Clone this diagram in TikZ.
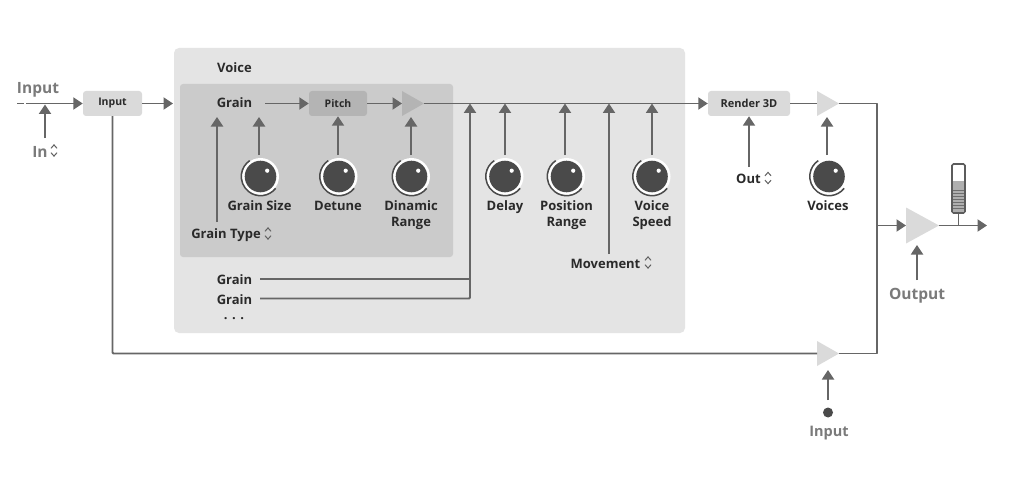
\documentclass[tikz,border=0pt]{standalone}
\usepackage{fontspec}
\setmainfont{Open Sans}
\usetikzlibrary{arrows.meta,shapes.geometric,calc,patterns}
\definecolor{wire}{HTML}{666666}
\definecolor{ink}{HTML}{2A2A2A}
\definecolor{soft}{HTML}{7A7A7A}
\definecolor{panelA}{HTML}{E4E4E4}
\definecolor{panelB}{HTML}{CBCBCB}
\definecolor{boxA}{HTML}{DADADA}
\definecolor{boxB}{HTML}{B4B4B4}
\definecolor{knobc}{HTML}{4A4A4A}
\tikzset{
  x=1pt,y=-1pt,
  wirestyle/.style={draw=wire,line width=1.9pt},
  arrowwire/.style={wirestyle,-{Triangle[length=9.5pt,width=12pt]}},
  lab/.style={font=\fontsize{13}{16}\selectfont\bfseries,text=ink,inner sep=0pt,align=center},
  biglab/.style={font=\fontsize{15.5}{17}\selectfont\bfseries,text=soft,inner sep=0pt},
  smalllab/.style={font=\fontsize{10.5}{12}\selectfont\bfseries,text=ink,inner sep=0pt},
  blockA/.style={fill=boxA,rounded corners=3pt,minimum width=#1,minimum height=25pt,inner sep=0pt},
  blockB/.style={fill=boxB,rounded corners=3pt,minimum width=#1,minimum height=25pt,inner sep=0pt},
  amp/.style={isosceles triangle,isosceles triangle stretches,inner sep=0pt,outer sep=0pt,anchor=lower side,shape border rotate=0},
  jn/.style={coordinate}
}
\newcommand{\knob}[3]{% name, x, y
  \node[circle,fill=white,minimum size=37pt,inner sep=0pt] (#1) at (#2,#3) {};
  \draw[knobc,line width=1.5pt] ($(#1)+(38:19.2)$) arc[start angle=38,end angle=236,radius=19.2];
  \fill[knobc] (#1) circle[radius=15.8];
  \fill[white] ($(#1)+(6.7,-5.8)$) circle[radius=2.1];
}
\newcommand{\updown}[2]{% x, y
  \draw[ink!75,line width=1pt] (#1-3,#2-2.2) -- (#1,#2-5.6) -- (#1+3,#2-2.2)
       (#1-3,#2+2.2) -- (#1,#2+5.6) -- (#1+3,#2+2.2);
}
\begin{document}
\begin{tikzpicture}
\useasboundingbox (0,0) rectangle (1024,476);
\fill[white] (0,0) rectangle (1024,476);
% panels
\fill[panelA,rounded corners=5pt] (174,48) rectangle (685,333);
\fill[panelB,rounded corners=3pt] (180,84) rectangle (453,257);
% blocks
\node[blockA=59pt] (inbox) at (112.5,103.5) {};
\node[smalllab] at (inbox) {Input};
\node[blockB=58pt] (pitch) at (338,103.5) {};
\node[smalllab] at (pitch) {Pitch};
\node[blockA=82pt] (render) at (749,103.5) {};
\node[smalllab,font=\fontsize{11}{12}\selectfont\bfseries] at (render) {Render 3D};
% amplifiers
\node[amp,fill=boxB,minimum height=22pt,minimum width=25pt] (ampA) at (402,103.5) {};
\node[amp,fill=boxA,minimum height=22pt,minimum width=25pt] (ampB) at (817,103.5) {};
\node[amp,fill=boxA,minimum height=22pt,minimum width=25pt] (ampC) at (817,353.5) {};
\node[amp,fill=boxA,minimum height=33pt,minimum width=36pt] (ampD) at (906,225.5) {};
% labels
\node[biglab] (lblinput) at (38,89.5) {Input};
\node[biglab] (lblin) at (40,151.5) {In};
\node[lab] (voice) at (234.5,68) {Voice};
\node[lab] (grain) at (234.5,103) {Grain};
\node[lab] (gsize) at (259.5,205.5) {Grain Size};
\node[lab] (detune) at (338,206) {Detune};
\node[lab] (dinamic) at (411,215) {Dinamic\\Range};
\node[lab] (gtype) at (226,235) {Grain Type};
\node[lab] (grainB) at (234.5,280) {Grain};
\node[lab] (grainC) at (234.5,299.5) {Grain};
\node[lab] (dots) at (234,319) {. . .};
\node[lab] (delay) at (505,207.5) {Delay};
\node[lab] (pos) at (566.5,215) {Position\\Range};
\node[lab] (speed) at (652,215) {Voice\\Speed};
\node[lab] (move) at (605.5,263.5) {Movement};
\node[lab] (out) at (748.5,179) {Out};
\node[lab] (voices) at (828,206) {Voices};
\node[biglab] (lblout) at (917,296) {Output};
\node[biglab,font=\fontsize{14.5}{16}\selectfont\bfseries] (lblinB) at (829,433) {Input};
\updown{54}{150.5}\updown{268}{233.5}\updown{648}{262.5}\updown{768}{178}
% knobs
\knob{kA}{260.5}{176.5}\knob{kB}{339}{176.5}\knob{kC}{411.5}{176.5}
\knob{kD}{505}{176.5}\knob{kE}{566.5}{176.5}\knob{kF}{652}{176.5}\knob{kG}{829}{176.5}
% junctions
\coordinate (a1) at (17,103.5); \coordinate (a2) at (24,103.5); \coordinate (a3) at (26,103.5);
\coordinate (inarrow) at (45,104.5); \coordinate (instart) at (45,138);
\coordinate (voiceIn) at (173,103.5);
\coordinate (mainD) at (470,103.5); \coordinate (mainE) at (505,103.5);
\coordinate (mainF) at (565,103.5); \coordinate (mainG) at (609,103.5); \coordinate (mainH) at (652,103.5);
\coordinate (bus) at (470,298.5); \coordinate (busB) at (470,279);
\coordinate (cTop) at (877,103.5); \coordinate (cBot) at (877,353.5); \coordinate (cMid) at (877,225.5);
\coordinate (inDown) at (112.5,353.5);
\coordinate (outEnd) at (987,225.5); \coordinate (meterFoot) at (958.5,225.5);
\node[circle,fill=knobc,minimum size=10pt,inner sep=0pt] (dotC) at (828,412.5) {};
% meter
\node[draw=knobc!90,line width=1.6pt,fill=white,rounded corners=1.5pt,minimum width=13pt,minimum height=49pt,inner sep=0pt] (meter) at (958.5,188.5) {};
\fill[soft!60] (953,181) rectangle (964,212);
\foreach \yy in {190,193,...,208} \draw[knobc!80,line width=.4pt] (953,\yy) -- (964,\yy);
% wires
\draw[wirestyle] (a1) -- (a2);
\draw[arrowwire] (a3) -- (inbox.west);
\draw[arrowwire] (instart) -- (inarrow);
\draw[arrowwire] (inbox.east) -- (voiceIn);
\draw[arrowwire] (265,103.5) -- (pitch.west);
\draw[arrowwire] (pitch.east) -- (ampA.lower side);
\draw[arrowwire] (ampA.apex) -- (render.west);
\draw[wirestyle] (render.east) -- (ampB.lower side);
\draw[wirestyle,line join=round] (ampB.apex) -- (cTop) -- (cBot) -- (ampC.apex);
\draw[arrowwire] (cMid) -- (ampD.lower side);
\draw[arrowwire] (ampD.apex) -- (outEnd);
\draw[wirestyle] (meter.south) -- (meterFoot);
\draw[wirestyle,rounded corners=1pt] (inbox.south) -- (inDown) -- (ampC.lower side);
\draw[arrowwire] (217,222) -- (217,117);
\draw[arrowwire] (259,155) -- (259,117);
\draw[arrowwire] (338,155) -- (pitch.south);
\draw[arrowwire] (411,155) -- (411,117);
\draw[arrowwire] (505,155) -- (mainE);
\draw[arrowwire] (565,155) -- (mainF);
\draw[arrowwire] (652,155) -- (mainH);
\draw[arrowwire] (609,254) -- (mainG);
\draw[arrowwire] (749,167) -- (render.south);
\draw[arrowwire] (827,155) -- (827,117);
\draw[arrowwire] (917,280) -- (917,245);
\draw[arrowwire] (828,400) -- (828,370);
\draw[wirestyle] (260,279) -- (busB);
\draw[arrowwire,rounded corners=1pt] (260,298.5) -- (bus) -- (mainD);
\end{tikzpicture}
\end{document}
